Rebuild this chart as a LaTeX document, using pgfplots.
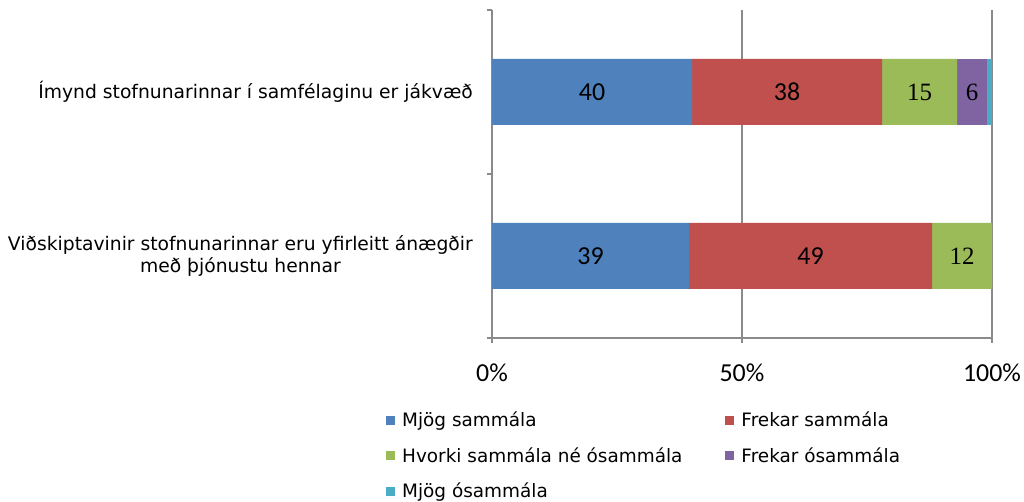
\documentclass[border=0pt]{standalone}
\usepackage{pgfplots}
\pgfplotsset{compat=1.18}
\usepackage{pgfplotstable}
\usepackage{fontspec}
\setmainfont{DejaVu Sans}
\newfontfamily\carlito{Carlito}
\newfontfamily\libserif{Liberation Serif}
\definecolor{c1}{HTML}{4F81BD}
\definecolor{c2}{HTML}{C0504D}
\definecolor{c3}{HTML}{9BBB59}
\definecolor{c4}{HTML}{8064A2}
\definecolor{c5}{HTML}{4BACC6}
\definecolor{gridgray}{HTML}{8A8A8A}
\pgfplotstableread{
c ms fs hv fo mo
0 39.4 48.6 12 0 0
1 40 38 15 6 1
}\data
\newcommand{\lbl}{\pgfmathfloatifflags{\pgfplotspointmeta}{0}{}{\pgfmathprintnumber[fixed,precision=0,assume math mode=true]{\pgfplotspointmeta}}}
\begin{document}
\begin{tikzpicture}
\path[use as bounding box] (0,0) rectangle (1024bp,502bp);
\begin{axis}[
  at={(492bp,164bp)}, anchor=south west,
  scale only axis, width=500bp, height=328bp,
  xbar stacked, bar width=66bp,
  xmin=0, xmax=100, ymin=-0.5, ymax=1.5,
  axis x line=bottom, axis y line=left,
  axis line style={-, draw=gridgray, line width=1.3bp},
  xtick={0,50,100}, xticklabels={0\%,50\%,100\%},
  xticklabel style={font=\carlito\fontsize{26}{26}\selectfont, inner sep=0pt, yshift=-21bp},
  xmajorgrids, grid style={draw=gridgray, line width=1.3bp},
  tick align=outside, major tick length=5bp,
  tick style={draw=gridgray, line width=1.3bp},
  ytick={-0.5,0.5,1.5}, yticklabels={},
  extra y ticks={0,1},
  extra y tick labels={{Viðskiptavinir stofnunarinnar eru yfirleitt ánægðir\\með þjónustu hennar},{Ímynd stofnunarinnar í samfélaginu er jákvæð}},
  extra y tick style={major tick length=0pt},
  yticklabel style={align=center, inner sep=0pt, xshift=-19bp, font=\fontsize{18.8}{22.5}\selectfont},
  point meta=explicit,
  every node near coord/.append style={anchor=center, text=black},
  legend columns=2,
  legend cell align=left,
  legend style={draw=none, fill=none, at={(-0.212,-0.2195)}, anchor=north west, inner sep=0pt,
    font=\fontsize{18.5}{18.5}\selectfont,
    /tikz/every even column/.append style={column sep=41bp},
    /tikz/every odd column/.append style={column sep=5bp},
    row sep=15.3bp},
  legend image code/.code={\fill[#1] (0bp,-4.5bp) rectangle (9bp,4.5bp);},
]
\addplot[fill=c1, draw=none, nodes near coords={\lbl},
  every node near coord/.append style={font=\carlito\fontsize{26}{26}\selectfont}] table[x=ms,y=c,meta=ms]\data;
\addlegendentry{Mjög sammála}
\addplot[fill=c2, draw=none, nodes near coords={\lbl},
  every node near coord/.append style={font=\carlito\fontsize{26}{26}\selectfont}] table[x=fs,y=c,meta=fs]\data;
\addlegendentry{Frekar sammála}
\addplot[fill=c3, draw=none, nodes near coords={\lbl},
  every node near coord/.append style={font=\libserif\fontsize{25}{25}\selectfont}] table[x=hv,y=c,meta=hv]\data;
\addlegendentry{Hvorki sammála né ósammála}
\addplot[fill=c4, draw=none, nodes near coords={\lbl},
  every node near coord/.append style={font=\libserif\fontsize{25}{25}\selectfont}] table[x=fo,y=c,meta=fo]\data;
\addlegendentry{Frekar ósammála}
\addplot[fill=c5, draw=none] table[x=mo,y=c,meta=mo]\data;
\addlegendentry{Mjög ósammála}
\end{axis}
\end{tikzpicture}
\end{document}
